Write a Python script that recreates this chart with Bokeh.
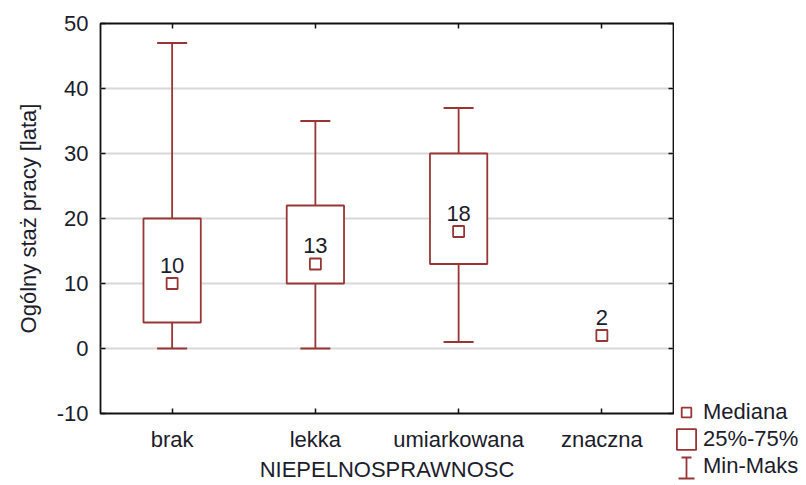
from bokeh.plotting import figure
from bokeh.layouts import row
from bokeh.models import (ColumnDataSource, FactorRange, Range1d, FixedTicker, LinearAxis,
                          CategoricalAxis, Whisker, TeeHead, Legend, LegendItem, LabelSet)
from bokeh.core.properties import value
from bokeh.embed import file_html
from bokeh.resources import INLINE

# ---- data ----
categories = ["brak", "lekka", "umiarkowana", "znaczna"]
medians = [10, 13, 18, 2]
box_categories = ["brak", "lekka", "umiarkowana"]
q1 = [4, 10, 13]
q3 = [20, 22, 30]
mins = [0, 0, 1]
maxs = [47, 35, 37]
y_ticks = [-10, 0, 10, 20, 30, 40, 50]
grid_ticks = [0, 10, 20, 30, 40]
legend_labels = ["Mediana", "25%-75%", "Min-Maks"]

RED = "#993535"
TXT = "#1c1c2c"
FONT = "Liberation Sans"
FS = "22px"
LW = 1.8

p = figure(width=674, height=485,
           x_range=FactorRange(factors=categories),
           y_range=Range1d(-10, 50),
           output_backend="svg", toolbar_location=None,
           min_border_left=100, min_border_right=1,
           min_border_top=23, min_border_bottom=72)
p.frame_align = False

p.outline_line_color = "#111111"
p.outline_line_width = 1.8
p.outline_line_alpha = 1.0
p.background_fill_color = "white"
p.border_fill_color = "white"

p.xgrid.grid_line_color = None
p.ygrid.ticker = FixedTicker(ticks=grid_ticks)
p.ygrid.grid_line_color = "#d8d8d8"
p.ygrid.grid_line_width = 1.8

# left axis
p.yaxis.ticker = FixedTicker(ticks=y_ticks)
p.yaxis.major_label_overrides = {-10: "-10"}
p.yaxis.axis_line_color = None
p.yaxis.major_tick_in = 5
p.yaxis.major_tick_out = 0
p.yaxis.major_tick_line_color = "#111111"
p.yaxis.major_tick_line_width = 1.5
p.yaxis.minor_tick_line_color = None
p.yaxis.major_label_standoff = 12
p.yaxis.major_label_text_font = FONT
p.yaxis.major_label_text_font_size = FS
p.yaxis.major_label_text_color = TXT
p.yaxis.axis_label = "Ogólny staż pracy [lata]"
p.yaxis.axis_label_text_font = FONT
p.yaxis.axis_label_text_font_size = FS
p.yaxis.axis_label_text_font_style = "normal"
p.yaxis.axis_label_text_color = TXT
p.yaxis.axis_label_standoff = 13

# bottom axis
p.xaxis.axis_line_color = None
p.xaxis.major_tick_in = 5
p.xaxis.major_tick_out = 0
p.xaxis.major_tick_line_color = "#111111"
p.xaxis.major_tick_line_width = 1.5
p.xaxis.major_label_standoff = 13
p.xaxis.major_label_text_font = FONT
p.xaxis.major_label_text_font_size = FS
p.xaxis.major_label_text_color = TXT
p.xaxis.axis_label = "NIEPELNOSPRAWNOSC"
p.xaxis.axis_label_text_font = FONT
p.xaxis.axis_label_text_font_size = FS
p.xaxis.axis_label_text_font_style = "normal"
p.xaxis.axis_label_text_color = TXT
p.xaxis.axis_label_standoff = 2

# mirrored inner ticks
p.add_layout(LinearAxis(ticker=FixedTicker(ticks=y_ticks), axis_line_color=None,
                        major_tick_in=5, major_tick_out=0, major_tick_line_color="#111111",
                        major_tick_line_width=1.5,
                        minor_tick_line_color=None, major_label_text_font_size="0px",
                        major_label_standoff=0), "right")
p.add_layout(CategoricalAxis(axis_line_color=None, major_tick_in=5, major_tick_out=0,
                             major_tick_line_color="#111111", major_tick_line_width=1.5,
                             major_label_text_font_size="0px", major_label_standoff=0), "above")

# boxes and whiskers
box_src = ColumnDataSource(dict(cat=box_categories, q1=q1, q3=q3, lo=mins, hi=maxs))
p.add_layout(Whisker(source=box_src, base="cat", lower="lo", upper="q1", dimension="height",
                     line_color=RED, line_width=LW,
                     lower_head=TeeHead(size=30, line_color=RED, line_width=LW),
                     upper_head=None))
p.add_layout(Whisker(source=box_src, base="cat", lower="q3", upper="hi", dimension="height",
                     line_color=RED, line_width=LW,
                     upper_head=TeeHead(size=30, line_color=RED, line_width=LW),
                     lower_head=None))
p.vbar(x="cat", width=0.4, bottom="q1", top="q3", source=box_src,
       fill_color="white", line_color=RED, line_width=LW)

med_src = ColumnDataSource(dict(cat=categories, med=medians, lbl=[str(m) for m in medians]))
p.scatter("cat", "med", source=med_src, marker="square", size=11,
          fill_color="white", line_color=RED, line_width=LW)
p.add_layout(LabelSet(x="cat", y="med", text="lbl", source=med_src, text_align="center",
                      text_baseline="alphabetic", y_offset=11, text_font=value(FONT),
                      text_font_size=value(FS), text_color=TXT))

# ---- legend panel (separate narrow figure to the right of the plot) ----
lg = figure(width=132, height=485, x_range=Range1d(0, 132), y_range=Range1d(0, 485),
            x_axis_type=None, y_axis_type=None, output_backend="svg", toolbar_location=None,
            min_border=0, outline_line_color=None)
lg.frame_align = False
lg.grid.visible = False
lg.background_fill_color = "white"
lg.border_fill_color = "white"

r_med = lg.scatter([-50], [-50], marker="square", size=10,
                   fill_color="white", line_color=RED, line_width=LW)
r_box = lg.vbar(x=[-50], width=1, bottom=[-60], top=[-40],
                fill_color="white", line_color=RED, line_width=LW)
r_mm = lg.scatter([-50], [-50], marker="square", size=1, fill_alpha=0, line_alpha=0)

legend = Legend(items=[LegendItem(label=legend_labels[0], renderers=[r_med]),
                       LegendItem(label=legend_labels[1], renderers=[r_box]),
                       LegendItem(label=legend_labels[2], renderers=[r_mm])],
                location=(0, 6), orientation="vertical",
                glyph_width=24, glyph_height=26, spacing=1, padding=0, margin=0,
                label_standoff=5, label_height=26,
                label_text_font=FONT, label_text_font_size=FS, label_text_color=TXT,
                border_line_color=None, background_fill_alpha=0)
lg.add_layout(legend, "center")

icon_src = ColumnDataSource(dict(base=[12], lo=[7], hi=[28]))
lg.add_layout(Whisker(source=icon_src, base="base", lower="lo", upper="hi", dimension="height",
                      line_color=RED, line_width=LW,
                      lower_head=TeeHead(size=16, line_color=RED, line_width=LW),
                      upper_head=TeeHead(size=10, line_color=RED, line_width=LW)))

layout = row(p, lg, spacing=0)
open("out.html", "w").write(file_html(layout, INLINE))
